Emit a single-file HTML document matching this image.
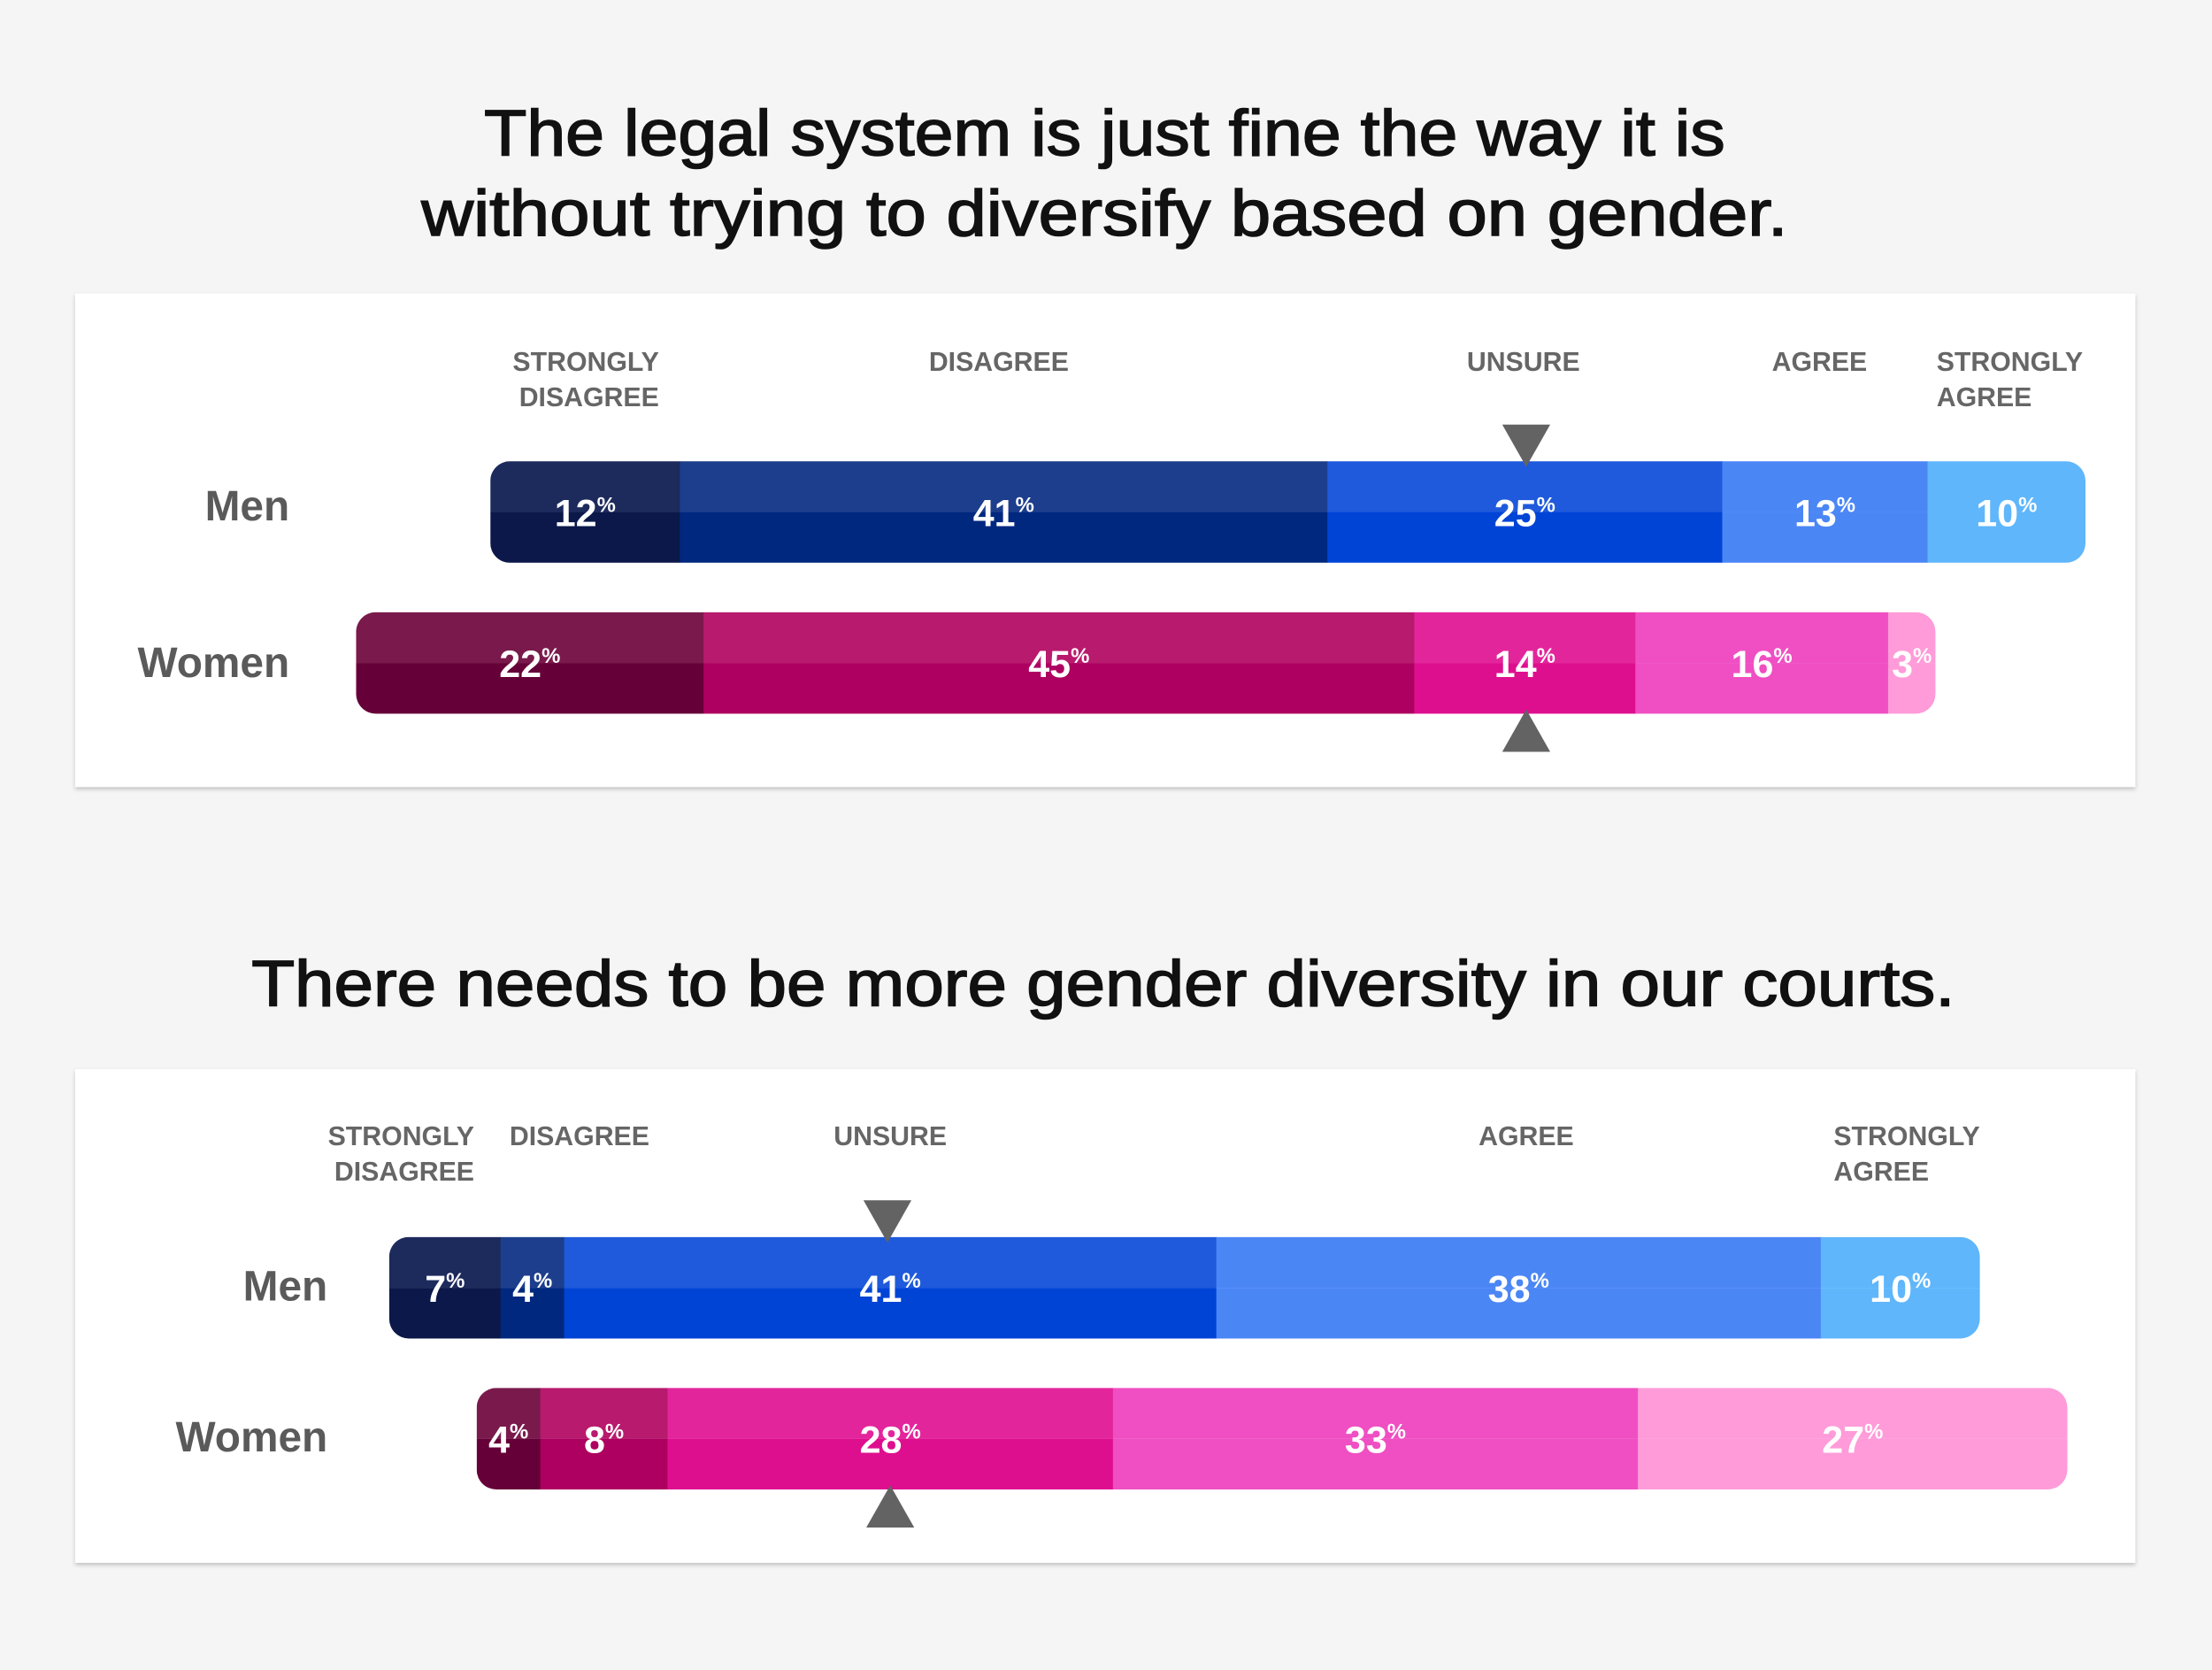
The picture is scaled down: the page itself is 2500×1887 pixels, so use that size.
<!DOCTYPE html>
<html><head><meta charset="utf-8">
<style>
html,body{margin:0;padding:0;background:#f5f5f5;}
svg{display:block;font-family:"Liberation Sans",sans-serif;}
</style></head>
<body>
<svg id="chart" width="2500" height="1887" viewBox="0 0 1568 1184" xmlns="http://www.w3.org/2000/svg">
<defs>
<filter id="sh" x="-5%" y="-5%" width="110%" height="115%"><feDropShadow dx="0" dy="1.5" stdDeviation="1.5" flood-color="#000" flood-opacity="0.22"/></filter>
</defs>
<rect width="1568" height="1184" fill="#f5f5f5"/>
<g font-size="46" fill="#111" stroke="#111" stroke-width="1" text-anchor="middle">
<text x="783" y="110" textLength="880" lengthAdjust="spacingAndGlyphs">The legal system is just fine the way it is</text>
<text x="783" y="167" textLength="969" lengthAdjust="spacingAndGlyphs">without trying to diversify based on gender.</text>
</g>
<text x="782" y="713" font-size="46" fill="#111" stroke="#111" stroke-width="1" text-anchor="middle" textLength="1208" lengthAdjust="spacingAndGlyphs">There needs to be more gender diversity in our courts.</text>
<rect x="53" y="208" width="1461" height="350" fill="#fff" filter="url(#sh)"/>
<rect x="53" y="758" width="1461" height="350" fill="#fff" filter="url(#sh)"/>
<g id="plot"></g>
</svg>
<script>
// Chart 1: "The legal system is just fine..."
const categories = ["Strongly disagree","Disagree","Unsure","Agree","Strongly agree"];
const c1Men = [12, 41, 25, 13, 10];
const c1Women = [22, 45, 14, 16, 3];
// Chart 2: "There needs to be more gender diversity..."
const c2Men = [7, 4, 41, 38, 10];
const c2Women = [4, 8, 28, 33, 27];

const NS = "http://www.w3.org/2000/svg";
const plot = document.getElementById("plot");
const BH = 72;
const menTop = ["#1d2a5c","#1c3e8c","#1e5adb","#4b86f5","#5fb6fb"];
const menBot = ["#0b1849","#00287f","#0044d6","#4b86f5","#5fb6fb"];
const womTop = ["#7a1a4c","#b81a6e","#e3259c","#ef4fc2","#ff9bd9"];
const womBot = ["#660038","#ad0060","#de0f8f","#ef4fc2","#ff9bd9"];

function mk(tag, attrs, parent){
  const e = document.createElementNS(NS, tag);
  for (const k in attrs) e.setAttribute(k, attrs[k]);
  (parent||plot).appendChild(e);
  return e;
}
function xStart(vals, center, PX){ return center - PX*(vals[0]+vals[1]+vals[2]/2); }

function drawBar(vals, center, y, top, bot, name, PX){
  const g = mk("g", {});
  
  
  const x0 = xStart(vals, center, PX);
  const total = vals.reduce((a,b)=>a+b,0);
  const id = "clip-" + name;
  const cp = mk("clipPath", {id:id}, g);
  mk("rect", {x:x0, y:y, width:total*PX, height:BH, rx:14}, cp);
  const inner = mk("g", {"clip-path":"url(#"+id+")"}, g);
  let x = x0;
  vals.forEach((v,i)=>{
    const w = v*PX;
    const s = mk("rect", {x:x, y:y, width:w+0.5, height:BH/2, fill:top[i]}, inner);
    
    
    const b = mk("rect", {x:x, y:y+BH/2, width:w+0.5, height:BH/2, fill:bot[i]}, inner);
    
    
    const t = mk("text", {x:x+w/2, y:y+BH/2+10, "font-size":27, "font-weight":"bold", fill:"#fff", "text-anchor":"middle"}, g);
    
    
    t.textContent = v;
    const p = mk("tspan", {"font-size":15, dy:-10}, t);
    p.textContent = "%";
    x += w;
  });
}
function rowLabel(txt, xr, y, name){
  const t = mk("text", {x:xr, y:y, "font-size":30, "font-weight":"bold", fill:"#5a5a5a", "text-anchor":"end"});
  
  
  t.textContent = txt;
}
function header(lines, x, y, anchor, name){
  const t = mk("text", {x:x, y:y, "font-size":19, "font-weight":"bold", fill:"#666", "text-anchor":anchor});
  
  
  lines.forEach((l,i)=>{ const s = mk("tspan", {x:x, dy:i?25:0}, t); s.textContent = l; });
}
function arrow(cx, y, down, name){
  const pts = down ? `${cx-17},${y} ${cx+17},${y} ${cx},${y+30}` : `${cx-17},${y+30} ${cx+17},${y+30} ${cx},${y}`;
  const a = mk("polygon", {points:pts, fill:"#636363"});
  
  
}

// Chart 1
const C1 = 1081;
header(["STRONGLY","DISAGREE"], 467, 263, "end", "c1-header-strongly-disagree");
header(["DISAGREE"], 708, 263, "middle", "c1-header-disagree");
header(["UNSURE"], 1080, 263, "middle", "c1-header-unsure");
header(["AGREE"], 1290, 263, "middle", "c1-header-agree");
header(["STRONGLY","AGREE"], 1373, 263, "start", "c1-header-strongly-agree");
rowLabel("Men", 205, 369, "c1-label-men");
rowLabel("Women", 205, 480, "c1-label-women");
drawBar(c1Men, C1, 327, menTop, menBot, "c1-men-bar", 11.2);
drawBar(c1Women, C1, 434, womTop, womBot, "c1-women-bar", 11.2);
arrow(C1+1, 301, true, "c1-men-unsure-arrow");
arrow(C1+1, 503, false, "c1-women-unsure-arrow");

// Chart 2
const C2 = 631;
header(["STRONGLY","DISAGREE"], 336, 812, "end", "c2-header-strongly-disagree");
header(["DISAGREE"], 361, 812, "start", "c2-header-disagree");
header(["UNSURE"], 631, 812, "middle", "c2-header-unsure");
header(["AGREE"], 1082, 812, "middle", "c2-header-agree");
header(["STRONGLY","AGREE"], 1300, 812, "start", "c2-header-strongly-agree");
rowLabel("Men", 232, 922, "c2-label-men");
rowLabel("Women", 232, 1029, "c2-label-women");
drawBar(c2Men, C2, 877, menTop, menBot, "c2-men-bar", 11.28);
drawBar(c2Women, C2, 984, womTop, womBot, "c2-women-bar", 11.28);
arrow(C2-2, 851, true, "c2-men-unsure-arrow");
arrow(C2, 1053, false, "c2-women-unsure-arrow");
</script>
</body></html>
